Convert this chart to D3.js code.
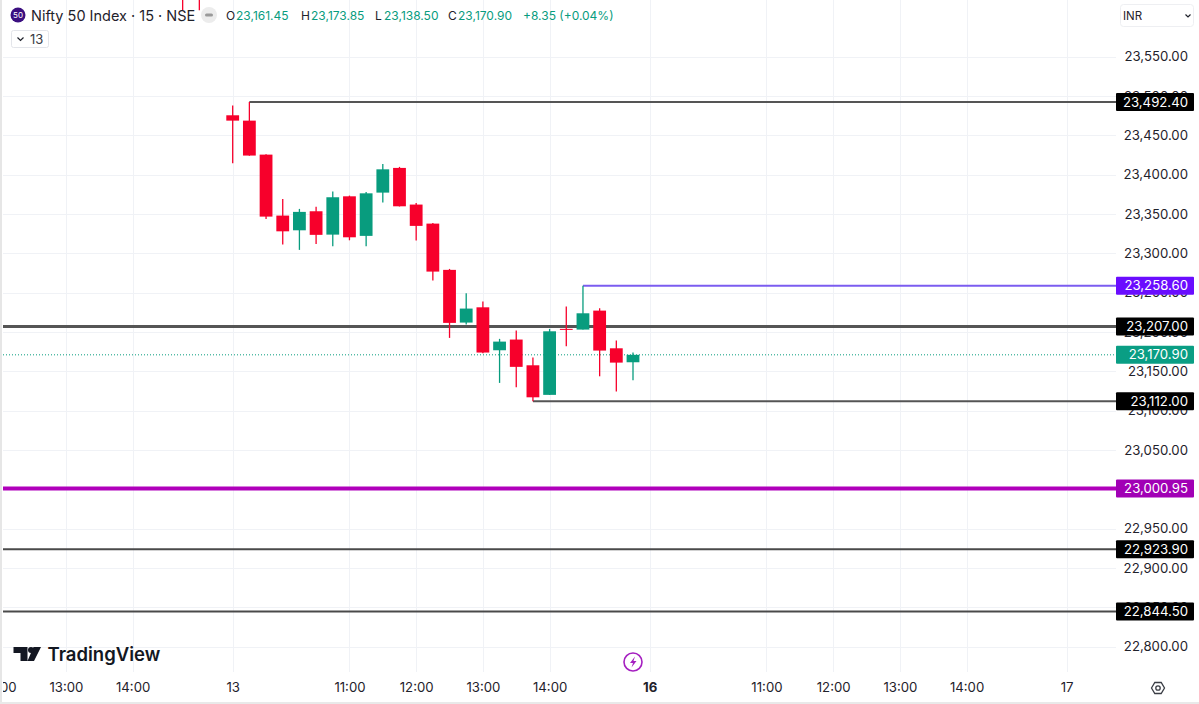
<!DOCTYPE html>
<html>
<head>
<meta charset="utf-8">
<script src="https://cdn.jsdelivr.net/npm/d3@7"></script>
<style>
  html, body { margin: 0; padding: 0; background: #fff; overflow: hidden; }
  svg { display: block; font-family: Inter, "Noto Sans", sans-serif; }
  .axis path, .axis line { display: none; }
</style>
</head>
<body>
<div id="chart"></div>
<script>
// candle values, first bar is 09:15 on the 13th
var candleOpen = [23475.4, 23468.6, 23425.4, 23347.9, 23329.2, 23353.4, 23323.7, 23372.4, 23322.1, 23377.1, 23408.5, 23361.9, 23337.7, 23278.9, 23211.9, 23231.3, 23176.7, 23190.3, 23157.6, 23120.0, 23203.9, 23203.0, 23227.1, 23179.2, 23161.45];
var candleHigh = [23487.7, 23492.4, 23426.0, 23369.1, 23356.4, 23359.0, 23378.4, 23373.3, 23378.0, 23413.6, 23409.8, 23364.0, 23338.5, 23280.1, 23249.1, 23238.6, 23191.2, 23201.7, 23167.4, 23203.9, 23232.2, 23258.6, 23230.1, 23189.0, 23173.85];
var candleLow = [23414.4, 23424.0, 23343.7, 23311.0, 23304.3, 23311.9, 23308.9, 23316.5, 23308.9, 23364.4, 23359.5, 23316.1, 23265.3, 23192.4, 23209.3, 23172.9, 23135.2, 23129.6, 23112.0, 23120.0, 23181.8, 23203.0, 23143.6, 23124.2, 23138.5];
var candleClose = [23468.6, 23424.2, 23346.6, 23327.9, 23352.6, 23323.4, 23371.2, 23320.3, 23376.2, 23406.7, 23359.7, 23334.8, 23276.7, 23211.5, 23229.7, 23173.8, 23187.7, 23155.6, 23116.9, 23200.8, 23202.6, 23223.7, 23176.3, 23161.0, 23170.9];

// two wicks from the previous session poke in at the top edge
var earlierBars = [-3, -2];
var earlierLow = [23609, 23609];
var earlierHigh = [23660, 23660];

// horizontal levels and the bar each one starts from (null = whole width)
var levelPrices = [23492.4, 23258.6, 23207.0, 23112.0, 23000.95, 22923.9, 22844.5];
var levelStart = [1, 21, null, 18, null, null, null];

var lastPrice = 23170.9;

var priceTicks = [22800, 22850, 22900, 22950, 23000, 23050, 23100, 23150, 23200, 23250, 23300, 23350, 23400, 23450, 23500, 23550];
var timeTickBars = [-14, -10, -6, 0, 7, 11, 15, 19, 25, 32, 36, 40, 44, 50];
var timeTickLabels = ["12:00", "13:00", "14:00", "13", "11:00", "12:00", "13:00", "14:00", "16", "11:00", "12:00", "13:00", "14:00", "17"];

var width = 1199, height = 704;
var plotLeft = 3, plotRight = 1116, plotBottom = 672;

var upColor = "#089c7e", downColor = "#f7002b", gridColor = "#f0f2f6", textColor = "#1f222b";
var levelColors = ["#555555", "#7b5cf0", "#555555", "#555555", "#b000bb", "#4a4a4a", "#4a4a4a"];
var levelWidths = [2, 2, 3, 2, 4, 2, 2];
var tagColors = ["#000000", "#6a0dff", "#000000", "#000000", "#a100b5", "#000000", "#000000"];

var x = d3.scaleLinear().domain([0, 24]).range([232.7, 633]);
var y = d3.scaleLinear().domain([22800, 23550]).range([646.6, 56.6]);
var fmt = d3.format(",.2f");

var svg = d3.select("#chart").append("svg").attr("width", width).attr("height", height);

svg.append("rect").attr("width", width).attr("height", height).attr("fill", "#fff");
// grey strip on the left and the line along the bottom of the screenshot
svg.append("rect").attr("width", 2).attr("height", height).attr("fill", "#e6e6e6");
svg.append("rect").attr("y", 702).attr("width", width).attr("height", 2).attr("fill", "#e9e9e9");

svg.append("clipPath").attr("id", "plot").append("rect")
  .attr("x", plotLeft).attr("y", 0).attr("width", plotRight - plotLeft).attr("height", plotBottom);
svg.append("clipPath").attr("id", "timeclip").append("rect")
  .attr("x", plotLeft).attr("y", plotBottom).attr("width", width).attr("height", 30);

// grid
var grid = svg.append("g").attr("clip-path", "url(#plot)").attr("stroke", gridColor).attr("stroke-width", 1);
grid.selectAll(".h").data(priceTicks).join("line").attr("class", "h")
  .attr("x1", plotLeft).attr("x2", plotRight)
  .attr("y1", d => Math.round(y(d)) + 0.5).attr("y2", d => Math.round(y(d)) + 0.5);
grid.selectAll(".v").data(timeTickBars).join("line").attr("class", "v")
  .attr("x1", d => Math.round(x(d)) + 0.5).attr("x2", d => Math.round(x(d)) + 0.5)
  .attr("y1", 0).attr("y2", plotBottom);

// price axis
var yAxis = svg.append("g").attr("class", "axis")
  .attr("transform", "translate(1188,0)")
  .call(d3.axisRight(y).tickValues(priceTicks).tickFormat(fmt).tickSize(0).tickPadding(0));
yAxis.selectAll("text")
  .attr("text-anchor", "end")
  .attr("font-size", 13.2)
  .attr("font-family", "Inter, sans-serif")
  .attr("fill", textColor);

// time axis, clip sits on an outer group so the translate does not move it
var xAxis = svg.append("g").attr("clip-path", "url(#timeclip)")
  .append("g").attr("class", "axis")
  .attr("transform", "translate(0,683)")
  .call(d3.axisBottom(x).tickValues(timeTickBars)
    .tickFormat((d, i) => timeTickLabels[i]).tickSize(0).tickPadding(0));
xAxis.selectAll("text")
  .attr("font-size", 13.2)
  .attr("font-family", "Inter, sans-serif")
  .attr("fill", textColor)
  .attr("font-weight", d => d == 25 ? 700 : 400);

// levels
var levels = svg.append("g").attr("clip-path", "url(#plot)");
levels.selectAll("line").data(levelPrices).join("line")
  .attr("x1", (d, i) => levelStart[i] === null ? plotLeft : x(levelStart[i]))
  .attr("x2", plotRight)
  .attr("y1", d => y(d)).attr("y2", d => y(d))
  .attr("stroke", (d, i) => levelColors[i])
  .attr("stroke-width", (d, i) => levelWidths[i]);

// last price dotted line
levels.append("line")
  .attr("x1", plotLeft).attr("x2", plotRight)
  .attr("y1", y(lastPrice)).attr("y2", y(lastPrice))
  .attr("stroke", upColor).attr("stroke-width", 1).attr("stroke-dasharray", "1 2");

// candles
var bars = candleOpen.map((d, i) => i);
var candles = svg.append("g").attr("clip-path", "url(#plot)");
candles.selectAll(".early").data(earlierBars).join("line").attr("class", "early")
  .attr("x1", d => x(d)).attr("x2", d => x(d))
  .attr("y1", (d, i) => y(earlierHigh[i])).attr("y2", (d, i) => y(earlierLow[i]))
  .attr("stroke", downColor).attr("stroke-width", 1.3);
candles.selectAll(".wick").data(bars).join("line").attr("class", "wick")
  .attr("x1", d => x(d)).attr("x2", d => x(d))
  .attr("y1", d => y(candleHigh[d])).attr("y2", d => y(candleLow[d]))
  .attr("stroke", d => candleClose[d] >= candleOpen[d] ? upColor : downColor)
  .attr("stroke-width", 1.3);
candles.selectAll(".body").data(bars).join("rect").attr("class", "body")
  .attr("x", d => x(d) - 6.4).attr("width", 12.8)
  .attr("y", d => y(Math.max(candleOpen[d], candleClose[d])))
  .attr("height", d => Math.max(1, Math.abs(y(candleOpen[d]) - y(candleClose[d]))))
  .attr("fill", d => candleClose[d] >= candleOpen[d] ? upColor : downColor);

// price tags on the right
function priceTag(price, color) {
  var g = svg.append("g").attr("transform", "translate(1116," + y(price) + ")");
  g.append("rect").attr("x", 0).attr("y", -9).attr("width", 78).attr("height", 18).attr("rx", 1).attr("fill", color);
  g.append("text").attr("x", 72).attr("dy", "0.35em").attr("text-anchor", "end")
    .attr("font-size", 13.2).attr("fill", "#fff").text(fmt(price));
}
levelPrices.forEach((d, i) => priceTag(d, tagColors[i]));
priceTag(lastPrice, "#0a9e84");

// legend row
var legend = svg.append("g");
legend.append("circle").attr("cx", 18).attr("cy", 15).attr("r", 7.5).attr("fill", "#3b0f80");
legend.append("text").attr("x", 18).attr("y", 18).attr("text-anchor", "middle")
  .attr("font-size", 8).attr("fill", "#fff").text("50");
legend.append("text").attr("x", 31).attr("y", 20.5).attr("font-size", 14.5).attr("fill", textColor)
  .text("Nifty 50 Index · 15 · NSE");
legend.append("circle").attr("cx", 209).attr("cy", 15).attr("r", 8).attr("fill", "#ececec");
legend.append("rect").attr("x", 205).attr("y", 13.5).attr("width", 8).attr("height", 3).attr("rx", 1.5).attr("fill", "#9a9a9a");

var ohlcNames = ["O", "H", "L", "C"];
var ohlcValues = [23161.45, 23173.85, 23138.5, 23170.9];
var ohlcNameX = [226, 301, 375, 448];
var ohlcValueX = [236, 311, 384, 458];
ohlcNames.forEach(function(name, i) {
  legend.append("text").attr("x", ohlcNameX[i]).attr("y", 19.5).attr("font-size", 12).attr("fill", textColor).text(name);
  legend.append("text").attr("x", ohlcValueX[i]).attr("y", 19.5).attr("font-size", 12).attr("fill", upColor).text(fmt(ohlcValues[i]));
});
legend.append("text").attr("x", 523).attr("y", 19.5).attr("font-size", 12).attr("fill", upColor).text("+8.35 (+0.04%)");

// collapsed indicators button
legend.append("rect").attr("x", 11.5).attr("y", 30.5).attr("width", 37).attr("height", 17).attr("rx", 2)
  .attr("fill", "#fff").attr("stroke", "#e3e5ea");
legend.append("path").attr("d", "M17.5 37.5 L20.5 40.5 L23.5 37.5").attr("fill", "none").attr("stroke", textColor).attr("stroke-width", 1.2);
legend.append("text").attr("x", 30).attr("y", 43.5).attr("font-size", 13).attr("fill", "#3a3d45").text("13");

// currency box
legend.append("rect").attr("x", 1120.5).attr("y", 4.5).attr("width", 73).attr("height", 22).attr("rx", 3)
  .attr("fill", "#fff").attr("stroke", "#eeeff2");
legend.append("text").attr("x", 1123).attr("y", 20).attr("font-size", 11.5).attr("fill", textColor).text("INR");
legend.append("path").attr("d", "M1185.5 14.5 L1188 17 L1190.5 14.5").attr("fill", "none").attr("stroke", textColor).attr("stroke-width", 1.2);

// tradingview logo
var logo = svg.append("g");
logo.append("path").attr("d", "M13.5 647 H27.5 V661 H20.5 V653 H13.5 Z M34 661 L41 647 H33.5 L27.5 661 Z").attr("fill", "#131722");
logo.append("circle").attr("cx", 31).attr("cy", 650).attr("r", 3).attr("fill", "#131722");
logo.append("text").attr("x", 47.5).attr("y", 660.5).attr("font-size", 18.5).attr("font-weight", 600)
  .attr("fill", "#131722").text("TradingView");

// lightning badge
svg.append("circle").attr("cx", 633).attr("cy", 662).attr("r", 9).attr("fill", "#fff").attr("stroke", "#a51fc0").attr("stroke-width", 1.6);
svg.append("path").attr("d", "M635 656.5 L630 663 H633 L631.5 667.5 L636.5 661 H633.5 Z").attr("fill", "#a51fc0");

// settings hexagon
svg.append("path").attr("d", "M1151.5 688 L1154.8 682.5 H1161.2 L1164.5 688 L1161.2 693.5 H1154.8 Z")
  .attr("fill", "none").attr("stroke", "#3a3d45").attr("stroke-width", 1.3);
svg.append("circle").attr("cx", 1158).attr("cy", 688).attr("r", 2.2).attr("fill", "none").attr("stroke", "#3a3d45").attr("stroke-width", 1.3);
</script>
</body>
</html>
